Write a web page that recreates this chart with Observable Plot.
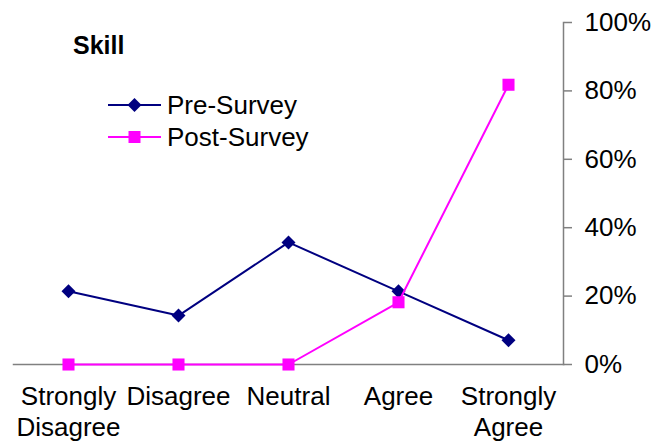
<!DOCTYPE html>
<html>
<head>
<meta charset="utf-8">
<script src="https://cdn.jsdelivr.net/npm/d3@7"></script>
<script src="https://cdn.jsdelivr.net/npm/@observablehq/plot@0.6"></script>
<style>
  body { margin: 0; background: #fff; }
  #wrap { position: relative; width: 670px; height: 447px; font-family: "Liberation Sans", Arial, sans-serif; }
  #title { position: absolute; left: 73px; top: 33px; font-size: 25px; font-weight: bold; line-height: 1; }
  #legend { position: absolute; left: 108px; top: 89px; font-size: 26px; line-height: 1; }
  .item { display: flex; align-items: center; height: 32px; }
  .item svg { margin-right: 6px; }
</style>
</head>
<body>
<div id="wrap">
  <div id="chart"></div>
  <div id="title">Skill</div>
  <div id="legend"></div>
</div>
<script>
const categories = ["Strongly Disagree", "Disagree", "Neutral", "Agree", "Strongly Agree"];
const xTickLabels = ["Strongly\nDisagree", "Disagree", "Neutral", "Agree", "Strongly\nAgree"];
const preSurvey = [0.214, 0.143, 0.357, 0.214, 0.071];
const postSurvey = [0, 0, 0, 0.182, 0.818];
const yTicks = [0, 0.2, 0.4, 0.6, 0.8, 1];
const seriesNames = ["Pre-Survey", "Post-Survey"];
const seriesColors = ["#000080", "#FF00FF"];
const seriesSymbols = ["diamond2", "square"];

const pre = categories.map((c, i) => ({cat: c, v: preSurvey[i]}));
const post = categories.map((c, i) => ({cat: c, v: postSurvey[i]}));
const labelOf = new Map(categories.map((c, i) => [c, xTickLabels[i]]));

const chart = Plot.plot({
  width: 670,
  height: 447,
  marginLeft: 13,
  marginRight: 107,
  marginTop: 22,
  marginBottom: 83,
  style: {fontFamily: "'Liberation Sans', Arial, sans-serif", background: "#fff", color: "#000"},
  x: {type: "point", domain: categories, padding: 0.5},
  y: {domain: [0, 1]},
  marks: [
    Plot.frame({anchor: "right", stroke: "#808080", strokeWidth: 1.5}),
    Plot.frame({anchor: "bottom", stroke: "#808080", strokeWidth: 1.5}),
    Plot.axisY({anchor: "right", ticks: yTicks, tickFormat: d3.format(".0%"), tickSize: 8, tickPadding: 13,
      fontSize: 26, stroke: "#808080", strokeWidth: 1.5, fill: "#000", label: null}),
    Plot.axisX({anchor: "bottom", tickSize: 0, tickPadding: 19, fontSize: 26, lineHeight: 1.18,
      tickFormat: d => labelOf.get(d), label: null, fill: "#000"}),
    Plot.line(pre, {x: "cat", y: "v", stroke: seriesColors[0], strokeWidth: 2}),
    Plot.dot(pre, {x: "cat", y: "v", symbol: seriesSymbols[0], r: 6.3, fill: seriesColors[0], stroke: "none"}),
    Plot.line(post, {x: "cat", y: "v", stroke: seriesColors[1], strokeWidth: 2}),
    Plot.dot(post, {x: "cat", y: "v", symbol: seriesSymbols[1], r: 6.8, fill: seriesColors[1], stroke: "none"})
  ]
});
document.getElementById("chart").appendChild(chart);

// legend
const legend = d3.select("#legend");
const symGen = [d3.symbolDiamond2, d3.symbolSquare];
const symSize = [125, 144];
seriesNames.forEach((name, i) => {
  const item = legend.append("div").attr("class", "item");
  const svg = item.append("svg").attr("width", 53).attr("height", 20);
  svg.append("line").attr("x1", 0).attr("x2", 53).attr("y1", 10).attr("y2", 10)
    .attr("stroke", seriesColors[i]).attr("stroke-width", 2);
  svg.append("path").attr("transform", "translate(26.5,10)")
    .attr("d", d3.symbol(symGen[i], symSize[i])()).attr("fill", seriesColors[i]);
  item.append("span").text(name);
});
</script>
</body>
</html>
